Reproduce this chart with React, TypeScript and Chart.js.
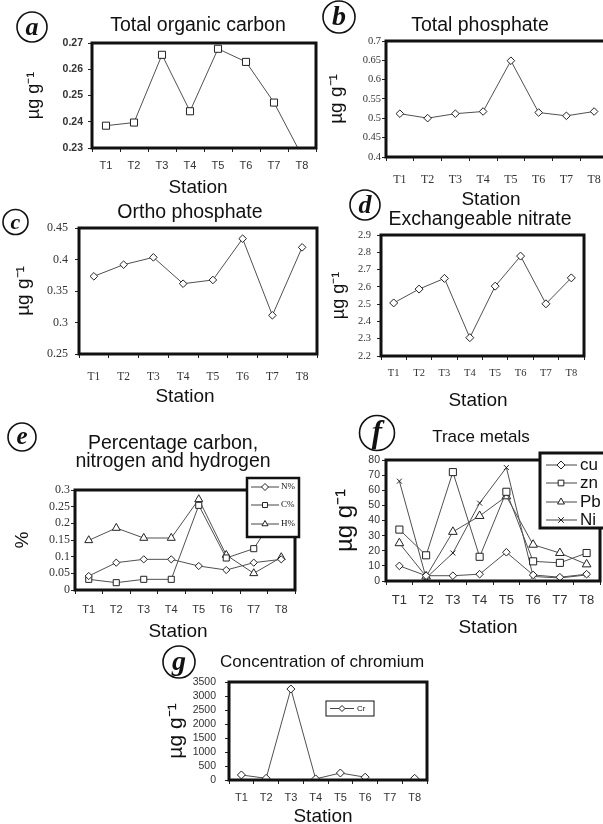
import React, { useEffect, useRef } from 'react';
import { Chart, registerables } from 'chart.js';

Chart.register(...registerables);

// ---------------- data ----------------
const stations = ['T1', 'T2', 'T3', 'T4', 'T5', 'T6', 'T7', 'T8'];

const totalOrganicCarbon = [0.2385, 0.2397, 0.2655, 0.244, 0.2678, 0.2628, 0.2473, 0.227];
const totalPhosphate = [0.512, 0.5005, 0.512, 0.5177, 0.649, 0.515, 0.5065, 0.5177];
const orthoPhosphate = [0.3733, 0.3918, 0.4034, 0.3616, 0.3675, 0.4331, 0.3114, 0.4193];
const exchangeableNitrate = [2.507, 2.587, 2.649, 2.306, 2.604, 2.778, 2.502, 2.652];

const nitrogenPct = [0.042, 0.082, 0.092, 0.092, 0.072, 0.06, 0.082, 0.092];
const carbonPct = [0.032, 0.022, 0.032, 0.032, 0.254, 0.096, 0.124, 0.25];
const hydrogenPct = [0.149, 0.186, 0.156, 0.156, 0.272, 0.105, 0.05, 0.098];

const copper = [10, 3.5, 3.5, 4.5, 19, 4, 2.5, 4.5];
const zinc = [34, 17, 72, 16, 59, 13, 12, 18.5];
const lead = [25, 3, 32.5, 43, 56, 24, 18.5, 11];
const nickel = [66, 2, 18.5, 51.5, 75, 3, 2, 4];

const chromium: (number | null)[] = [180, 60, 3250, 40, 250, 100, null, 60];

const ticksA = [0.23, 0.24, 0.25, 0.26, 0.27];
const ticksB = [0.4, 0.45, 0.5, 0.55, 0.6, 0.65, 0.7];
const ticksC = [0.25, 0.3, 0.35, 0.4, 0.45];
const ticksD = [2.2, 2.3, 2.4, 2.5, 2.6, 2.7, 2.8, 2.9];
const ticksE = [0, 0.05, 0.1, 0.15, 0.2, 0.25, 0.3];
const ticksF = [0, 10, 20, 30, 40, 50, 60, 70, 80];
const ticksG = [0, 500, 1000, 1500, 2000, 2500, 3000, 3500];

// ---------------- styling / layout ----------------
const SANS = '"Liberation Sans", Arial, Helvetica, sans-serif';
const SERIF = '"Liberation Serif", "Times New Roman", Times, serif';
const UNIT = 'µg g⁻¹';

type Series = { label: string; data: (number | null)[]; style: string; radius: number };
type FontSpec = { family: string; size: number; weight?: string };
type LegendSpec = {
  box: number[]; rows: number[]; sample: number[]; markerX: number; markerR: number;
  textX: number; font: string; border: number;
};
type PanelSpec = {
  letter: string;
  canvas: number[];
  box: number[];
  yTicks: number[];
  yTickFont: FontSpec; yTickPad: number;
  xTickFont: FontSpec; xTickY: number;
  yTitle: string; yTitleSize: number; yTitleX: number;
  title: string[]; titleSize: number; titleX: number; titleBase: number[];
  stationX: number; stationBase: number; stationSize: number;
  circle: number[];
  series: Series[];
  legend?: LegendSpec;
};

const panels: PanelSpec[] = [
  {
    letter: 'a', canvas: [0, 0, 322, 200], box: [92, 43, 317, 148],
    yTicks: ticksA, yTickFont: { family: SANS, size: 10.5, weight: 'bold' }, yTickPad: 5,
    xTickFont: { family: SANS, size: 11 }, xTickY: 166,
    yTitle: UNIT, yTitleSize: 18, yTitleX: 34,
    title: ['Total organic carbon'], titleSize: 19.5, titleX: 198, titleBase: [31],
    stationX: 198, stationBase: 193, stationSize: 19,
    circle: [32, 27, 15],
    series: [{ label: 'TOC', data: totalOrganicCarbon, style: 'rect', radius: 5 }],
  },
  {
    letter: 'b', canvas: [300, 0, 320, 212], box: [386, 41, 608, 157],
    yTicks: ticksB, yTickFont: { family: SERIF, size: 10.5 }, yTickPad: 1,
    xTickFont: { family: SERIF, size: 12 }, xTickY: 180,
    yTitle: UNIT, yTitleSize: 19, yTitleX: 337,
    title: ['Total phosphate'], titleSize: 19.5, titleX: 480, titleBase: [31],
    stationX: 491, stationBase: 205, stationSize: 19,
    circle: [339, 17, 16],
    series: [{ label: 'TP', data: totalPhosphate, style: 'rectRot', radius: 3.8 }],
  },
  {
    letter: 'c', canvas: [0, 195, 322, 215], box: [79, 228, 317, 354],
    yTicks: ticksC, yTickFont: { family: SERIF, size: 12 }, yTickPad: 7,
    xTickFont: { family: SERIF, size: 11.5 }, xTickY: 377,
    yTitle: UNIT, yTitleSize: 19, yTitleX: 24,
    title: ['Ortho phosphate'], titleSize: 19.5, titleX: 190, titleBase: [218],
    stationX: 185, stationBase: 402, stationSize: 19,
    circle: [15.5, 222, 12.5],
    series: [{ label: 'OP', data: orthoPhosphate, style: 'rectRot', radius: 3.8 }],
  },
  {
    letter: 'd', canvas: [300, 188, 303, 222], box: [381, 235, 584, 356],
    yTicks: ticksD, yTickFont: { family: SERIF, size: 10.5 }, yTickPad: 6,
    xTickFont: { family: SERIF, size: 10.5 }, xTickY: 373,
    yTitle: UNIT, yTitleSize: 18, yTitleX: 339,
    title: ['Exchangeable nitrate'], titleSize: 19.5, titleX: 480, titleBase: [225],
    stationX: 478, stationBase: 406, stationSize: 19,
    circle: [365, 205, 15],
    series: [{ label: 'EN', data: exchangeableNitrate, style: 'rectRot', radius: 4 }],
  },
  {
    letter: 'e', canvas: [0, 418, 310, 224], box: [75, 490, 295, 590],
    yTicks: ticksE, yTickFont: { family: SERIF, size: 12 }, yTickPad: 1,
    xTickFont: { family: SANS, size: 11 }, xTickY: 610,
    yTitle: '%', yTitleSize: 19, yTitleX: 23,
    title: ['Percentage carbon,', 'nitrogen and hydrogen'], titleSize: 19.5, titleX: 173, titleBase: [449, 467],
    stationX: 178, stationBase: 637, stationSize: 19,
    circle: [22, 437, 14],
    series: [
      { label: 'N%', data: nitrogenPct, style: 'rectRot', radius: 3.6 },
      { label: 'C%', data: carbonPct, style: 'rect', radius: 4.3 },
      { label: 'H%', data: hydrogenPct, style: 'triangle', radius: 4.6 },
    ],
    legend: {
      box: [247, 478, 299, 537], rows: [487, 505, 524], sample: [251, 279], markerX: 265, markerR: 3.5,
      textX: 281, font: `9px ${SERIF}`, border: 2.5,
    },
  },
  {
    letter: 'f', canvas: [300, 408, 320, 232], box: [386, 460, 600, 581],
    yTicks: ticksF, yTickFont: { family: SANS, size: 10.5 }, yTickPad: 2,
    xTickFont: { family: SANS, size: 13 }, xTickY: 600,
    yTitle: UNIT, yTitleSize: 24, yTitleX: 345,
    title: ['Trace metals'], titleSize: 17, titleX: 481, titleBase: [442],
    stationX: 488, stationBase: 633, stationSize: 19,
    circle: [377, 433, 17.5],
    series: [
      { label: 'cu', data: copper, style: 'rectRot', radius: 3.8 },
      { label: 'zn', data: zinc, style: 'rect', radius: 5 },
      { label: 'Pb', data: lead, style: 'triangle', radius: 5 },
      { label: 'Ni', data: nickel, style: 'crossRot', radius: 3.5 },
    ],
    legend: {
      box: [540, 453, 615, 528], rows: [465, 483, 502, 520], sample: [546, 577], markerX: 561, markerR: 4,
      textX: 580, font: `17px ${SANS}`, border: 3,
    },
  },
  {
    letter: 'g', canvas: [150, 645, 300, 179], box: [229, 682, 427, 780],
    yTicks: ticksG, yTickFont: { family: SANS, size: 10.5 }, yTickPad: 9,
    xTickFont: { family: SANS, size: 11 }, xTickY: 798,
    yTitle: UNIT, yTitleSize: 21, yTitleX: 176,
    title: ['Concentration of chromium'], titleSize: 17, titleX: 322, titleBase: [667],
    stationX: 323, stationBase: 822, stationSize: 19,
    circle: [179, 662, 16],
    series: [{ label: 'Cr', data: chromium, style: 'rectRot', radius: 4 }],
    legend: {
      box: [326, 701, 374, 716], rows: [708.5], sample: [330, 354], markerX: 342, markerR: 3,
      textX: 357, font: `8px ${SANS}`, border: 1,
    },
  },
];

// ---------------- drawing helpers ----------------
function drawMarker(ctx: CanvasRenderingContext2D, style: string, x: number, y: number, r: number) {
  ctx.save();
  ctx.beginPath();
  if (style === 'rect') {
    const s = r * Math.SQRT1_2;
    ctx.rect(x - s, y - s, 2 * s, 2 * s);
  } else if (style === 'rectRot') {
    ctx.moveTo(x - r, y);
    ctx.lineTo(x, y - r);
    ctx.lineTo(x + r, y);
    ctx.lineTo(x, y + r);
    ctx.closePath();
  } else if (style === 'triangle') {
    for (let k = 0; k < 3; k++) {
      const a = (k * 2 * Math.PI) / 3;
      const px = x + Math.sin(a) * r;
      const py = y - Math.cos(a) * r;
      if (k === 0) ctx.moveTo(px, py);
      else ctx.lineTo(px, py);
    }
    ctx.closePath();
  } else if (style === 'crossRot') {
    const d = r * Math.SQRT1_2;
    ctx.moveTo(x - d, y - d);
    ctx.lineTo(x + d, y + d);
    ctx.moveTo(x + d, y - d);
    ctx.lineTo(x - d, y + d);
  }
  if (style !== 'crossRot') {
    ctx.fillStyle = '#fff';
    ctx.fill();
  }
  ctx.strokeStyle = '#222';
  ctx.lineWidth = 1;
  ctx.stroke();
  ctx.restore();
}

function drawDecor(chart: Chart, spec: PanelSpec) {
  const ctx = chart.ctx;
  const ox = spec.canvas[0];
  const oy = spec.canvas[1];
  const { left, top, right, bottom } = chart.chartArea;
  ctx.save();

  // plot frame
  ctx.strokeStyle = '#111';
  ctx.lineWidth = 3;
  ctx.strokeRect(left, top, right - left, bottom - top);

  // chart title
  ctx.fillStyle = '#111';
  ctx.textAlign = 'center';
  ctx.textBaseline = 'alphabetic';
  ctx.font = `${spec.titleSize}px ${SANS}`;
  spec.title.forEach((t, i) => ctx.fillText(t, spec.titleX - ox, spec.titleBase[i] - oy));

  // x axis caption
  ctx.font = `${spec.stationSize}px ${SANS}`;
  ctx.fillText('Station', spec.stationX - ox, spec.stationBase - oy);

  // circled panel letter
  const [cx, cy, r] = spec.circle;
  ctx.beginPath();
  ctx.arc(cx - ox, cy - oy, r, 0, Math.PI * 2);
  ctx.lineWidth = 1.6;
  ctx.strokeStyle = '#111';
  ctx.stroke();
  ctx.font = `italic bold ${Math.round(r * 1.75)}px ${SERIF}`;
  ctx.textBaseline = 'middle';
  ctx.fillText(spec.letter, cx - ox, cy - oy + 1);

  // legend
  const L = spec.legend;
  if (L) {
    const [x0, y0, x1, y1] = L.box;
    ctx.fillStyle = '#fff';
    ctx.fillRect(x0 - ox, y0 - oy, x1 - x0, y1 - y0);
    ctx.lineWidth = L.border;
    ctx.strokeStyle = '#111';
    ctx.strokeRect(x0 - ox, y0 - oy, x1 - x0, y1 - y0);
    spec.series.forEach((s, i) => {
      const y = L.rows[i] - oy;
      ctx.beginPath();
      ctx.moveTo(L.sample[0] - ox, y);
      ctx.lineTo(L.sample[1] - ox, y);
      ctx.strokeStyle = '#444';
      ctx.lineWidth = 1;
      ctx.stroke();
      drawMarker(ctx, s.style, L.markerX - ox, y, L.markerR);
      ctx.fillStyle = '#111';
      ctx.font = L.font;
      ctx.textAlign = 'left';
      ctx.textBaseline = 'middle';
      ctx.fillText(s.label, L.textX - ox, y);
    });
  }
  ctx.restore();
}

function buildConfig(spec: PanelSpec): any {
  const [cx, cy, cw, ch] = spec.canvas;
  const [bl, bt, br, bb] = spec.box;
  const tickLen = 4;
  const yLh = spec.yTitleSize * 1.2;
  const xLh = spec.xTickFont.size * 1.2;
  const scaleLeft = spec.yTitleX - yLh / 2;
  const padL = scaleLeft - cx;
  const yWidth = bl - scaleLeft;
  const padR = cx + cw - br;
  const padT = bt - cy;
  const xHeight = cy + ch - bb;
  const yt = spec.yTicks;

  const decor = {
    id: 'decor',
    afterDraw(chart: Chart) {
      drawDecor(chart, spec);
    },
  };

  return {
    type: 'line',
    data: {
      labels: stations,
      datasets: spec.series.map((s) => ({
        label: s.label,
        data: s.data,
        borderColor: '#505050',
        borderWidth: 1,
        pointStyle: s.style,
        pointRadius: s.radius,
        pointHoverRadius: s.radius,
        pointBackgroundColor: '#fff',
        pointBorderColor: '#222',
        pointBorderWidth: 1,
        tension: 0,
        spanGaps: false,
      })),
    },
    options: {
      responsive: false,
      maintainAspectRatio: false,
      animation: false,
      events: [],
      layout: { padding: { left: padL, right: padR, top: padT, bottom: 0 } },
      plugins: {
        legend: { display: false },
        tooltip: { enabled: false },
        title: { display: false },
      },
      scales: {
        x: {
          type: 'category',
          offset: true,
          grid: {
            display: true, drawOnChartArea: false, drawTicks: true, tickLength: tickLen,
            offset: true, color: '#222', lineWidth: 1,
          },
          border: { display: false },
          ticks: {
            font: spec.xTickFont, color: '#333', maxRotation: 0, autoSkip: false,
            padding: spec.xTickY - bb - tickLen - xLh / 2,
          },
          afterFit: (s: any) => {
            s.height = xHeight;
            s.paddingLeft = 0;
            s.paddingRight = 0;
          },
        },
        y: {
          type: 'linear',
          min: yt[0],
          max: yt[yt.length - 1],
          afterBuildTicks: (s: any) => {
            s.ticks = yt.map((v) => ({ value: v }));
          },
          grid: {
            display: true, drawOnChartArea: false, drawTicks: true, tickLength: tickLen,
            color: '#222', lineWidth: 1,
          },
          border: { display: false },
          ticks: {
            font: spec.yTickFont, color: '#333', padding: spec.yTickPad, autoSkip: false,
            callback: (v: any) => String(v),
          },
          title: {
            display: true, text: spec.yTitle, color: '#111', padding: 0,
            font: { family: SANS, size: spec.yTitleSize },
          },
          afterFit: (s: any) => {
            s.width = yWidth;
            s.paddingTop = 0;
            s.paddingBottom = 0;
          },
        },
      },
    },
    plugins: [decor],
  };
}

function Panel({ spec }: { spec: PanelSpec }) {
  const ref = useRef<HTMLCanvasElement>(null);
  useEffect(() => {
    if (!ref.current) return;
    const chart = new Chart(ref.current, buildConfig(spec));
    return () => chart.destroy();
  }, [spec]);
  const [x, y, w, h] = spec.canvas;
  return (
    <canvas
      ref={ref}
      width={w}
      height={h}
      style={{ position: 'absolute', left: x, top: y, width: w, height: h }}
    />
  );
}

export default function App() {
  useEffect(() => {
    document.body.style.margin = '0';
    document.body.style.background = '#fff';
  }, []);
  return (
    <div
      style={{
        position: 'absolute', left: 0, top: 0, width: 603, height: 824,
        overflow: 'hidden', background: '#fff',
      }}
    >
      {panels.map((p) => (
        <Panel key={p.letter} spec={p} />
      ))}
    </div>
  );
}
